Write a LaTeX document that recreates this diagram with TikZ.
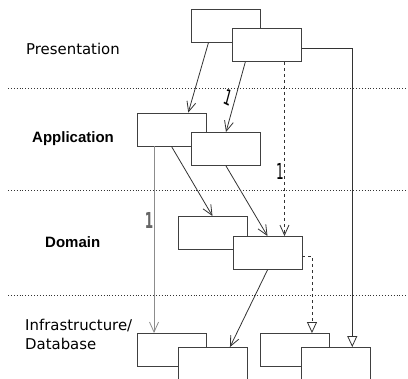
\documentclass[tikz,border=0pt]{standalone}
\usepackage{fontspec}
\setmainfont{DejaVu Sans}
\newfontfamily\arialbold{Liberation Sans}
\usetikzlibrary{arrows.meta, calc}

\begin{document}
\begin{tikzpicture}[
            x=1pt, y=-1pt,
            layer/.style={anchor=base west, inner sep=0pt, font=\fontsize{14.9}{19}\selectfont},
            layerbold/.style={anchor=base west, inner sep=0pt, font=\arialbold\fontsize{15}{17}\selectfont\bfseries},
            box/.style={draw=black!75, fill=white, line width=0.9pt, minimum width=69pt, minimum height=33pt, inner sep=0pt},
            mult/.style={inner sep=0pt, font=\fontsize{22}{22}\selectfont, xscale=0.55},
            arrow/.style={-{Straight Barb[length=10pt, width=9pt]}, black!80, line width=0.8pt},
            inherit/.style={-{Triangle[open, length=11pt, width=10pt]}, black!80, line width=0.8pt},
            sep/.style={dotted, black!80, line width=0.9pt}
        ]

        \clip (0,0) rectangle (408,379);

        % Layer separators
        \draw[sep] (8,88) -- (408,88);
        \draw[sep] (8,190) -- (408,190);
        \draw[sep] (8,295) -- (408,295);

        % Layer names
        \node[layer] (presentation) at (26,55) {Presentation};
        \node[layerbold] (application) at (32,143) {Application};
        \node[layerbold] (domain) at (45,248) {Domain};
        \node[layer, align=left] (infra) at (25,350) {Infrastructure/\\Database};

        % Boxes (second one of each pair sits on top of the first)
        \node[box] (P1) at (226,25.5) {};
        \node[box] (P2) at (267,45) {};
        \node[box] (A1) at (171.5,129.5) {};
        \node[box] (A2) at (226,149) {};
        \node[box] (D1) at (212.5,233) {};
        \node[box] (D2) at (267.5,253) {};
        \node[box] (I1) at (171.5,350) {};
        \node[box] (I2) at (212.5,364) {};
        \node[box] (I3) at (294.5,350) {};
        \node[box] (I4) at (335.5,364) {};

        % Attachment points
        \coordinate (p1out) at ($(P1.south west)!0.25!(P1.south east)$);
        \coordinate (a1in) at ($(A1.north west)!0.74!(A1.north east)$);
        \coordinate (p2out) at ($(P2.south west)!0.19!(P2.south east)$);
        \coordinate (p2down) at ($(P2.south west)!0.75!(P2.south east)$);
        \coordinate (a1down) at ($(A1.south west)!0.25!(A1.south east)$);
        \coordinate (i2in) at ($(I2.north west)!0.75!(I2.north east)$);
        \coordinate (i3in) at ($(I3.north west)!0.75!(I3.north east)$);
        \coordinate (i4in) at ($(I4.north west)!0.74!(I4.north east)$);

        % Arrows
        \draw[arrow] (p1out) -- (a1in);
        \draw[arrow] (p2out) -- (A2.north);
        \draw[arrow, dashed] (p2down) -- (p2down |- D2.north);
        \draw[inherit] ([yshift=-3pt]P2.east) -| (i4in);
        \draw[arrow, black!45] (a1down) -- (a1down |- I1.north);
        \draw[arrow] (A1.south) -- (D1.north);
        \draw[arrow] (A2.south) -- (D2.north);
        \draw[arrow] (D2.south) -- (i2in);
        \draw[inherit, dashed] ([yshift=-3pt]D2.east) -| (i3in);

        % Multiplicities
        \node[mult, rotate=-15] (m1) at (228,98) {\itshape 1};
        \node[mult] (m2) at (280,171) {1};
        \node[mult, black!60] (m3) at (149,220) {\bfseries 1};

    \end{tikzpicture}
\end{document}
